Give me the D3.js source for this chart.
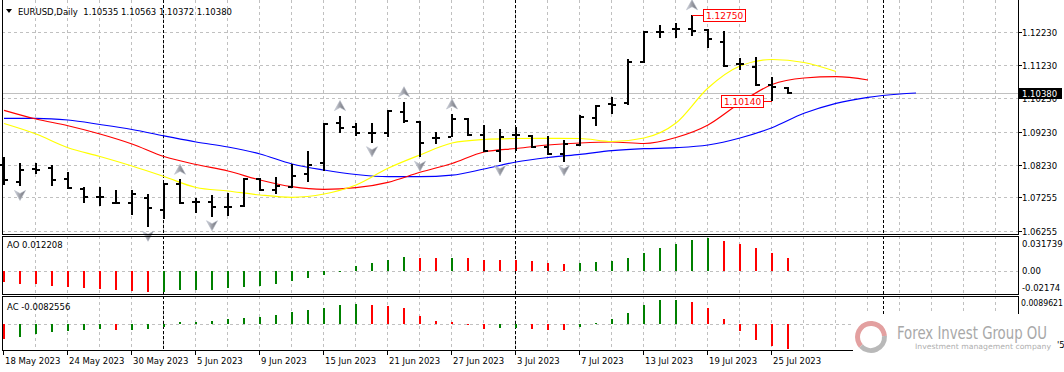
<!DOCTYPE html>
<html>
<head>
<meta charset="utf-8">
<script src="https://cdn.jsdelivr.net/npm/d3@7"></script>
<style>
  body { margin: 0; background: #fff; }
  svg { display: block; font-family: "DejaVu Sans", "Liberation Sans", sans-serif; }
</style>
</head>
<body>
<div id="chart"></div>
<script>
// EURUSD daily bars, 18 May - 26 Jul 2023
const opens = [1.08226,1.07724,1.08097,1.08127,1.07805,1.07504,1.07254,1.07073,1.07092,1.07224,1.06872,1.07655,1.07104,1.07122,1.06971,1.06992,1.07805,1.07474,1.07555,1.07956,1.08278,1.09482,1.09385,1.09181,1.09181,1.09831,1.09530,1.09048,1.09078,1.09602,1.09129,1.08648,1.09129,1.09099,1.08777,1.08558,1.08829,1.09632,1.10048,1.10084,1.11312,1.12239,1.12320,1.12320,1.12290,1.11938,1.11267,1.11185,1.10634,1.10535];
const highs = [1.08476,1.08278,1.08278,1.08226,1.08025,1.07555,1.07573,1.07474,1.07474,1.07354,1.07676,1.07796,1.07224,1.07323,1.07393,1.07826,1.07826,1.07874,1.08248,1.08657,1.09482,1.09716,1.09476,1.09500,1.09882,1.10132,1.09560,1.09229,1.09762,1.09632,1.09430,1.09301,1.09379,1.09129,1.09099,1.08979,1.09731,1.10033,1.10264,1.11408,1.12269,1.12440,1.12492,1.12750,1.12311,1.12269,1.11438,1.11468,1.10866,1.10563];
const lows = [1.07624,1.07580,1.07956,1.07594,1.07495,1.07092,1.06992,1.07053,1.06712,1.06351,1.06592,1.07053,1.06773,1.06670,1.06691,1.06953,1.07453,1.07354,1.07525,1.07724,1.08055,1.09190,1.09099,1.08898,1.09060,1.09500,1.08458,1.08859,1.09060,1.09099,1.08627,1.08326,1.08657,1.08729,1.08527,1.08326,1.08798,1.09415,1.09753,1.10032,1.11288,1.12040,1.12040,1.12109,1.11739,1.11185,1.11086,1.10604,1.10140,1.10372];
const closes = [1.07775,1.08076,1.08076,1.07775,1.07525,1.07254,1.07260,1.07092,1.07354,1.06923,1.07655,1.07074,1.07104,1.06953,1.06965,1.07814,1.07474,1.07594,1.07895,1.08226,1.09461,1.09331,1.09181,1.09175,1.09861,1.09560,1.08880,1.09048,1.09602,1.09129,1.08640,1.09078,1.09120,1.08777,1.08558,1.08859,1.09671,1.10002,1.10040,1.11336,1.12239,1.12230,1.12330,1.12269,1.12010,1.11206,1.11260,1.10634,1.10565,1.10380];

// alligator lines, [bar index, price] (shifted forward past the last bar)
const jaw = [[0,1.09632],[2,1.09632],[4,1.09581],[6,1.09446],[8,1.09295],[10,1.09105],[12,1.08919],[14,1.08768],[16,1.08558],[18,1.08257],[20,1.08076],[22,1.07941],[24,1.07874],[26,1.07874],[28,1.07920],[30,1.08106],[32,1.08317],[34,1.08452],[36,1.08549],[38,1.08657],[40,1.08717],[42,1.08747],[44,1.08829],[46,1.09039],[48,1.09349],[50,1.09783],[52,1.10084],[54,1.10264],[56,1.10364],[57,1.10394]];
const teeth = [[0,1.09873],[2,1.09611],[4,1.09409],[6,1.09160],[8,1.08859],[10,1.08482],[12,1.08242],[14,1.08046],[16,1.07775],[18,1.07573],[20,1.07495],[22,1.07543],[24,1.07706],[26,1.08007],[28,1.08272],[30,1.08618],[32,1.08723],[34,1.08829],[36,1.08889],[38,1.08919],[40,1.08874],[42,1.09054],[44,1.09431],[46,1.10093],[48,1.10650],[50,1.10845],[52,1.10884],[54,1.10785]];
const lips = [[0,1.09476],[2,1.09160],[4,1.08747],[6,1.08482],[8,1.08196],[10,1.07880],[12,1.07549],[14,1.07444],[16,1.07324],[18,1.07254],[20,1.07354],[22,1.07625],[24,1.08127],[26,1.08528],[28,1.08889],[30,1.08994],[32,1.09024],[34,1.09030],[36,1.09024],[38,1.08934],[40,1.09039],[42,1.09491],[44,1.10544],[46,1.11206],[48,1.11402],[50,1.11312],[52,1.11041]];

const aoValues = [-0.0104,-0.0123,-0.0126,-0.0143,-0.0150,-0.0160,-0.0172,-0.0182,-0.0191,-0.0201,-0.0198,-0.0184,-0.0181,-0.0179,-0.0163,-0.0151,-0.0144,-0.0125,-0.0097,-0.0066,-0.0041,-0.0003,0.0044,0.0075,0.0101,0.0130,0.0120,0.0118,0.0121,0.0119,0.0101,0.0100,0.0098,0.0091,0.0075,0.0063,0.0075,0.0082,0.0094,0.0119,0.0170,0.0217,0.0252,0.0289,0.0305,0.0280,0.0252,0.0214,0.0167,0.012208];
const acValues = [-0.0049,-0.0044,-0.0032,-0.0027,-0.0021,-0.0020,-0.0016,-0.0020,-0.0019,-0.0015,-0.0008,0.0008,0.0009,0.0012,0.0017,0.0022,0.0025,0.0030,0.0041,0.0047,0.0056,0.0063,0.0067,0.0063,0.0060,0.0053,0.0027,0.0011,0.0008,0.0002,-0.0015,-0.0014,-0.0013,-0.0015,-0.0019,-0.0020,-0.0009,0.0004,0.0017,0.0037,0.0063,0.0080,0.0081,0.0073,0.0053,0.0017,-0.0022,-0.0051,-0.0073,-0.0082556];

const upFractals = [11, 21, 25, 28, 43];
const downFractals = [1, 9, 13, 23, 26, 31, 35];
const separators = [10, 32, 55];

const dateTicks = [0, 4, 8, 12, 16, 20, 24, 28, 32, 36, 40, 44, 48];
const dateLabels = ["18 May 2023","24 May 2023","30 May 2023","5 Jun 2023","9 Jun 2023","15 Jun 2023","21 Jun 2023","27 Jun 2023","3 Jul 2023","7 Jul 2023","13 Jul 2023","19 Jul 2023","25 Jul 2023"];
const priceTicks = [1.12230, 1.11230, 1.10230, 1.09230, 1.08230, 1.07255, 1.06255];
const aoTicks = [0.031739, 0, -0.02174];
const acTicks = [0.0089621];
const lastPrice = 1.10380;
const markHigh = 43, markLow = 48;

const W = 1064, H = 372;
const left = 2, right = 1018;
const mainTop = 0, mainBottom = 234;
const aoTop = 236, aoBottom = 294;
const acTop = 296, acBottom = 350;
const fs = "8.5px";

const x = d3.scaleLinear().domain([0, 63]).range([3, 3 + 16 * 63]);
const yPrice = d3.scaleLinear().domain([1.06255, 1.12230]).range([230.5, 32]);
const yAO = d3.scaleLinear().domain([-0.02174, 0.031739]).range([294, 237]);
const yAC = d3.scaleLinear().domain([-0.0082556, 0.0089621]).range([349, 297.5]);

const crisp = v => Math.round(v) + 0.5;
const gridIdx = d3.range(2, 64, 2).filter(i => x(i) < right);

const svg = d3.select("#chart").append("svg")
  .attr("width", W)
  .attr("height", H);

svg.append("rect").attr("width", W).attr("height", H).attr("fill", "#fff");

const defs = svg.append("defs");
const grad = defs.append("linearGradient").attr("id", "arrowFill")
  .attr("x1", 0).attr("y1", 0).attr("x2", 1).attr("y2", 0);
grad.append("stop").attr("offset", "0%").attr("stop-color", "#d6d9e2");
grad.append("stop").attr("offset", "50%").attr("stop-color", "#9a9ca4");
grad.append("stop").attr("offset", "100%").attr("stop-color", "#6e7078");

function drawGrid(top, bottom, hVals, yScale) {
  const g = svg.append("g")
    .attr("stroke", "#c0c0c0")
    .attr("stroke-dasharray", "3,3");
  g.selectAll(".vgrid")
    .data(gridIdx)
    .enter().append("line")
    .attr("class", "vgrid")
    .attr("x1", i => crisp(x(i))).attr("x2", i => crisp(x(i)))
    .attr("y1", top).attr("y2", bottom);
  g.selectAll(".hgrid")
    .data(hVals)
    .enter().append("line")
    .attr("class", "hgrid")
    .attr("x1", left).attr("x2", right)
    .attr("y1", d => crisp(yScale(d))).attr("y2", d => crisp(yScale(d)));
}

drawGrid(mainTop, mainBottom, priceTicks, yPrice);
drawGrid(aoTop, aoBottom, [0], yAO);
drawGrid(acTop, acBottom, [0], yAC);

// month separators
[[mainTop, mainBottom], [aoTop, aoBottom], [acTop, acBottom]].forEach(([t, b]) => {
  svg.append("g").selectAll("line")
    .data(separators)
    .enter().append("line")
    .attr("x1", i => crisp(x(i))).attr("x2", i => crisp(x(i)))
    .attr("y1", t).attr("y2", b)
    .attr("stroke", "#000")
    .attr("stroke-dasharray", "3,2");
});

// bid line
svg.append("line")
  .attr("x1", left).attr("x2", right)
  .attr("y1", crisp(yPrice(lastPrice))).attr("y2", crisp(yPrice(lastPrice)))
  .attr("stroke", "#c0c0c0");

// alligator
const clip = defs.append("clipPath").attr("id", "mainClip");
clip.append("rect").attr("x", left).attr("y", mainTop).attr("width", right - left).attr("height", mainBottom - mainTop);

const line = d3.line()
  .x(d => x(d[0]) + 1)
  .y(d => yPrice(d[1]))
  .curve(d3.curveMonotoneX);

const lines = svg.append("g").attr("clip-path", "url(#mainClip)").attr("fill", "none").attr("stroke-width", 1.2);
lines.append("path").attr("d", line(jaw)).attr("stroke", "#0000ff");
lines.append("path").attr("d", line(teeth)).attr("stroke", "#ff0000");
lines.append("path").attr("d", line(lips)).attr("stroke", "#ffff00");

// OHLC bars
const bars = svg.append("g").attr("fill", "#000").attr("shape-rendering", "crispEdges");
const idx = d3.range(opens.length);
bars.selectAll(".hl").data(idx).enter().append("rect")
  .attr("class", "hl")
  .attr("x", i => x(i)).attr("width", 2)
  .attr("y", i => yPrice(highs[i]))
  .attr("height", i => Math.max(1, yPrice(lows[i]) - yPrice(highs[i])));
bars.selectAll(".op").data(idx).enter().append("rect")
  .attr("class", "op")
  .attr("x", i => x(i) - 3).attr("width", 3)
  .attr("y", i => yPrice(opens[i]) - 1).attr("height", 2);
bars.selectAll(".cl").data(idx).enter().append("rect")
  .attr("class", "cl")
  .attr("x", i => x(i) + 2).attr("width", 3)
  .attr("y", i => yPrice(closes[i]) - 1).attr("height", 2);

// fractals
const arrows = svg.append("g").attr("fill", "url(#arrowFill)").attr("stroke", "#b4b8c4").attr("stroke-width", 0.6);
arrows.selectAll(".up").data(upFractals).enter().append("path")
  .attr("class", "up")
  .attr("transform", i => "translate(" + (x(i) + 1) + "," + (yPrice(highs[i]) - 10) + ")")
  .attr("d", "M0,-5 L5.5,5 L0,2 L-5.5,5 Z");
arrows.selectAll(".dn").data(downFractals).enter().append("path")
  .attr("class", "dn")
  .attr("transform", i => "translate(" + (x(i) + 1) + "," + (yPrice(lows[i]) + 9) + ")")
  .attr("d", "M0,5 L5.5,-5 L0,-2 L-5.5,-5 Z");

// high / low price marks
function priceMark(i, price, side) {
  const bx = x(i) + 1;
  const py = yPrice(price);
  const boxW = 42, boxH = 12;
  const boxX = side > 0 ? bx + 11 : bx - 9 - boxW;
  const g = svg.append("g");
  g.append("line")
    .attr("x1", bx).attr("x2", side > 0 ? boxX : boxX + boxW)
    .attr("y1", crisp(py)).attr("y2", crisp(py))
    .attr("stroke", "#ff0000");
  g.append("rect")
    .attr("x", crisp(boxX)).attr("y", crisp(py - boxH / 2))
    .attr("width", boxW).attr("height", boxH)
    .attr("fill", "#fff").attr("stroke", "#ff0000");
  g.append("text")
    .attr("x", boxX + boxW / 2 + 0.5).attr("y", py + 4)
    .attr("text-anchor", "middle")
    .attr("font-size", "9px")
    .attr("fill", "#ff0000")
    .text(price.toFixed(5));
}
priceMark(markHigh, highs[markHigh], 1);
priceMark(markLow, lows[markLow], -1);

// AO / AC histograms
function histogram(values, yScale) {
  svg.append("g").attr("shape-rendering", "crispEdges")
    .selectAll("rect")
    .data(values)
    .enter().append("rect")
    .attr("x", (d, i) => x(i)).attr("width", 2)
    .attr("y", d => Math.min(yScale(d), yScale(0)))
    .attr("height", d => Math.max(1, Math.abs(yScale(d) - yScale(0))))
    .attr("fill", (d, i) => (i > 0 && d >= values[i - 1]) ? "#008000" : "#ff0000");
}
histogram(aoValues, yAO);
histogram(acValues, yAC);

// panel borders
const borders = svg.append("g").attr("fill", "none").attr("stroke", "#000").attr("shape-rendering", "crispEdges");
borders.append("path").attr("d", `M${left + 0.5},${mainTop} V${mainBottom + 0.5} H${right + 0.5} V${mainTop}`);
borders.append("rect").attr("x", left + 0.5).attr("y", aoTop + 0.5).attr("width", right - left).attr("height", aoBottom - aoTop);
borders.append("rect").attr("x", left + 0.5).attr("y", acTop + 0.5).attr("width", right - left).attr("height", acBottom - acTop);

// right price axis
const axisText = svg.append("g").attr("font-size", fs).attr("fill", "#000");
priceTicks.forEach(p => {
  const yy = crisp(yPrice(p));
  svg.append("line").attr("x1", right).attr("x2", right + 4).attr("y1", yy).attr("y2", yy).attr("stroke", "#000");
  axisText.append("text").attr("x", right + 4).attr("y", yy + 3.5).text(p.toFixed(5));
});

const bidY = yPrice(lastPrice);
svg.append("rect").attr("x", right + 1).attr("y", Math.round(bidY) - 5).attr("width", 43).attr("height", 11).attr("fill", "#000");
svg.append("text").attr("x", right + 4).attr("y", bidY + 3.5)
  .attr("font-size", fs).attr("fill", "#fff").text(lastPrice.toFixed(5));

aoTicks.forEach(v => {
  const yy = Math.min(Math.max(yAO(v), aoTop + 7), aoBottom - 7);
  axisText.append("text").attr("x", right + 4).attr("y", yy + 3.5).text(v === 0 ? "0.00" : String(v));
});
acTicks.forEach(v => {
  const yy = Math.min(Math.max(yAC(v), acTop + 6), acBottom - 7);
  axisText.append("text").attr("x", right + 3).attr("y", yy + 3.5)
    .attr("textLength", 42).attr("lengthAdjust", "spacingAndGlyphs").text(String(v));
});

// time axis
const timeAxis = svg.append("g").attr("font-size", fs).attr("fill", "#000");
dateTicks.forEach((i, k) => {
  svg.append("line")
    .attr("x1", crisp(x(i))).attr("x2", crisp(x(i)))
    .attr("y1", acBottom + 1).attr("y2", acBottom + 5)
    .attr("stroke", "#000");
  timeAxis.append("text").attr("x", x(i) + 2).attr("y", 364).text(dateLabels[k]);
});

// headers
svg.append("path").attr("d", "M6,9 L12,9 L9,13 Z").attr("fill", "#000");
svg.append("text").attr("x", 18).attr("y", 14.5).attr("font-size", fs)
  .attr("xml:space", "preserve")
  .text("EURUSD,Daily  " + [opens[49], highs[49], lows[49], closes[49]].map(v => v.toFixed(5)).join(" "));
svg.append("text").attr("x", 7).attr("y", 248).attr("font-size", fs)
  .text("AO " + aoValues[aoValues.length - 1]);
svg.append("text").attr("x", 7).attr("y", 309.5).attr("font-size", fs)
  .text("AC " + acValues[acValues.length - 1]);

// watermark
const wm = svg.append("g");
wm.append("rect").attr("x", 853).attr("y", 314).attr("width", 201).attr("height", 45).attr("fill", "#fff");
const ring = d3.arc().innerRadius(11).outerRadius(16);
wm.append("path").attr("transform", "translate(871,337)")
  .attr("d", ring({ startAngle: -2.3, endAngle: 1.5 }))
  .attr("fill", "#e3a0a0");
wm.append("path").attr("transform", "translate(871,337)")
  .attr("d", ring({ startAngle: 1.5, endAngle: 3.98 }))
  .attr("fill", "#b9b9b9");
wm.append("text").attr("x", 897).attr("y", 339)
  .attr("font-family", "'Liberation Sans Narrow', 'DejaVu Sans Condensed', sans-serif")
  .attr("font-size", "18px").attr("fill", "#a8a8a8")
  .attr("textLength", 150).attr("lengthAdjust", "spacingAndGlyphs")
  .text("Forex Invest Group OU");
wm.append("text").attr("x", 915).attr("y", 349)
  .attr("font-size", "7.5px").attr("fill", "#b0b0b0")
  .attr("textLength", 136).attr("lengthAdjust", "spacingAndGlyphs")
  .text("Investment management company");
svg.append("text").attr("x", 1057).attr("y", 348).attr("font-size", fs).attr("fill", "#000").text("'5");
</script>
</body>
</html>
